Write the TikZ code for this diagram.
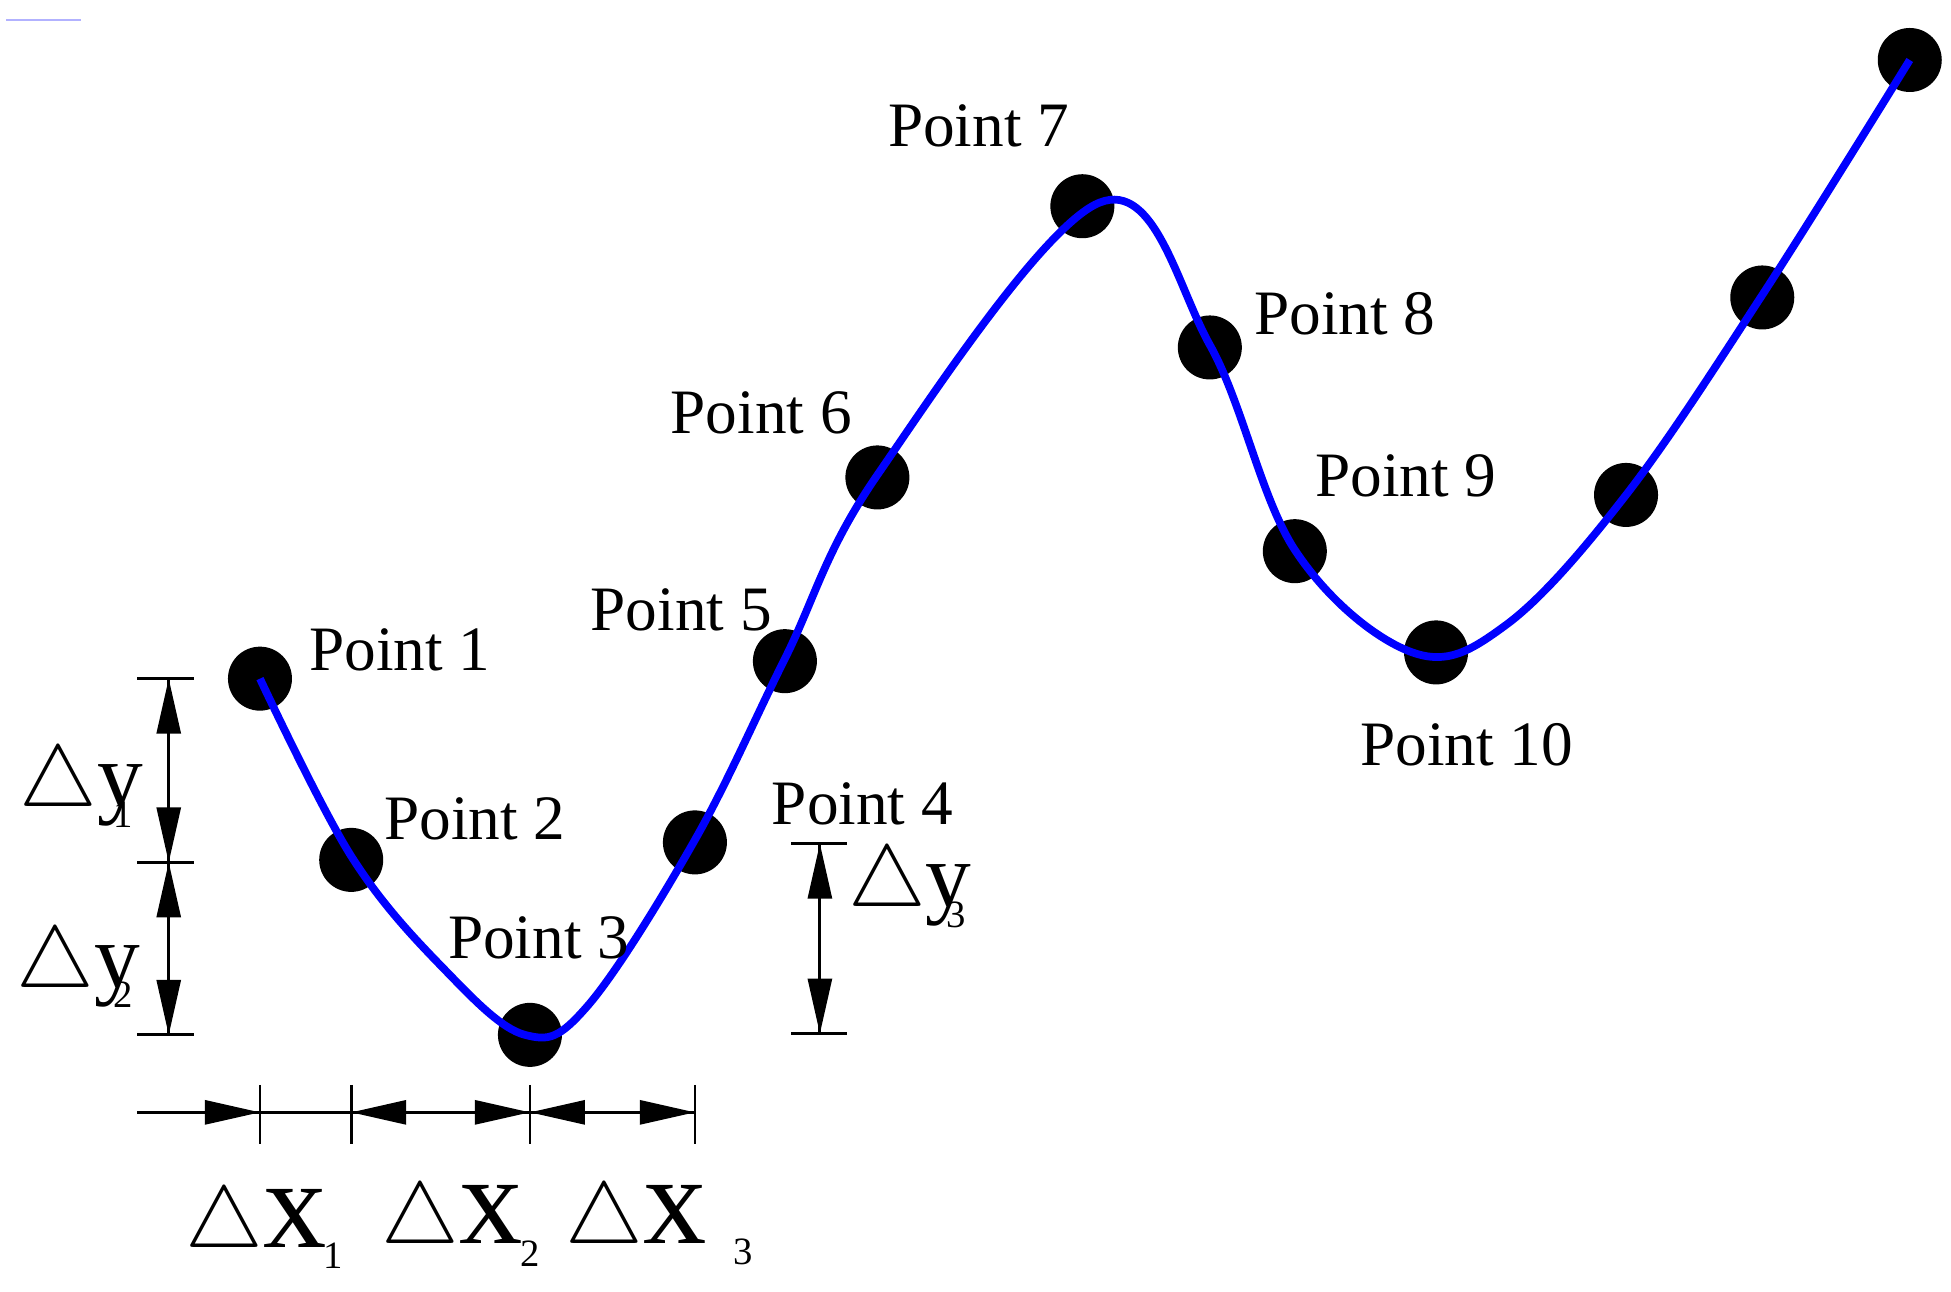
\documentclass[tikz,border=0pt]{standalone}
\usepackage{fontspec}
\setmainfont{Liberation Serif}
\usetikzlibrary{arrows.meta}
\begin{document}
\begin{tikzpicture}[x=0.0125cm,y=-0.0125cm,
  dot/.style={circle,fill=black,inner sep=0pt,minimum size=0.64cm},
  lbl/.style={font=\fontsize{18}{20}\selectfont,inner sep=0pt},
  dim/.style={line width=0.8pt},
  ar/.style={-{Triangle[length=0.55cm,width=0.24cm]},line width=0.8pt},
  big/.style={font=\fontsize{26}{28}\selectfont,inner sep=0pt},
  huge/.style={font=\fontsize{36}{38}\selectfont,inner sep=0pt},
  sub/.style={font=\fontsize{11}{12}\selectfont,inner sep=0pt}]
\useasboundingbox (0,0) rectangle (1561,1033);
\draw[blue!30,line width=0.6pt] (5,16) -- (65,16);
% points
\foreach \n/\x/\y in {1/208/543,2/281/688,3/424/828,4/556/674,5/628/529,6/702/382,7/866/165,8/968/278,9/1036/441,10/1149/522,11/1301/396,12/1410/238,13/1528/48}
  \node[dot] (p\n) at (\x,\y) {};
\draw[blue,line width=2.2pt] plot[smooth,tension=0.6] coordinates
 {(208,543) (281,685) (355,775) (420,828) (470,805) (556,672) (628,527) (702,380) (880,162) (968,276) (1036,440) (1130,522) (1205,500) (1301,396) (1410,236) (1528,48)};
% labels
\node[lbl,anchor=west] (l1) at (247,520) {Point 1};
\node[lbl,anchor=west] (l2) at (307,655) {Point 2};
\node[lbl,anchor=west] (l3) at (358,750) {Point 3};
\node[lbl,anchor=west] (l4) at (617,643) {Point 4};
\node[lbl,anchor=west] (l5) at (472,488) {Point 5};
\node[lbl,anchor=west] (l6) at (536,330) {Point 6};
\node[lbl,anchor=west] (l7) at (710,101) {Point 7};
\node[lbl,anchor=west] (l8) at (1003,251) {Point 8};
\node[lbl,anchor=west] (l9) at (1052,381) {Point 9};
\node[lbl,anchor=west] (l10) at (1088,596) {Point 10};
% vertical dimension y1, y2
\coordinate (ya) at (135,543); \coordinate (yb) at (135,690); \coordinate (yc) at (135,828);
\draw[dim] (110,543) -- (155,543) (110,690) -- (155,690) (110,828) -- (155,828);
\draw[dim] (ya) -- (yc);
\draw[ar] (135,600) -- (ya);
\draw[ar] (135,630) -- (yb);
\draw[ar] (135,750) -- (yb);
\draw[ar] (135,770) -- (yc);
\node[big,anchor=base west] (dy1) at (15,645) {$\triangle$y};
\node[sub,anchor=base west] (s1) at (90,662) {1};
\node[big,anchor=base west] (dy2) at (13,790) {$\triangle$y};
\node[sub,anchor=base west] (s2) at (90,806) {2};
% y3
\coordinate (yd) at (656,675); \coordinate (ye) at (656,827);
\draw[dim] (633,675) -- (678,675) (633,827) -- (678,827) (yd) -- (ye);
\draw[ar] (656,735) -- (yd);
\draw[ar] (656,765) -- (ye);
\node[big,anchor=base west] (dy3) at (678,725) {$\triangle$y};
\node[sub,anchor=base west] (s3) at (757,742) {3};
% horizontal dimension
\coordinate (xa) at (208,890); \coordinate (xb) at (281,890); \coordinate (xc) at (424,890); \coordinate (xd) at (556,890);
\draw[dim] (110,890) -- (xd);
\foreach \x in {208,281,424,556} \draw[dim] (\x,868) -- (\x,915);
\draw[ar] (150,890) -- (xa);
\draw[ar] (340,890) -- (xb);
\draw[ar] (365,890) -- (xc);
\draw[ar] (485,890) -- (xc);
\draw[ar] (500,890) -- (xd);
\node[huge,anchor=base west] (dx1) at (148,998) {$\triangle$x};
\node[sub,anchor=base west] (t1) at (258,1015) {1};
\node[huge,anchor=base west] (dx2) at (305,995) {$\triangle$x};
\node[sub,anchor=base west] (t2) at (416,1013) {2};
\node[huge,anchor=base west] (dx3) at (452,995) {$\triangle$x};
\node[sub,anchor=base west] (t3) at (586,1012) {3};
\end{tikzpicture}
\end{document}
